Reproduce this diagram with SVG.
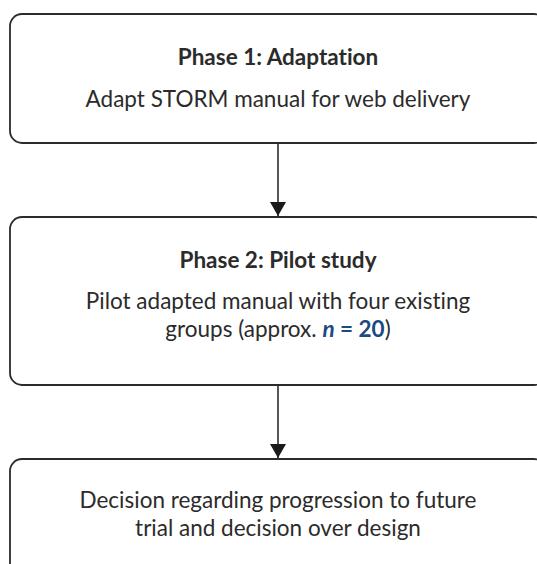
<svg xmlns="http://www.w3.org/2000/svg" width="537" height="564" viewBox="0 0 537 564">
  <style>
    .box { fill: #ffffff; stroke: #2b2b2b; stroke-width: 1.8; }
    .link { stroke: #2b2b2b; stroke-width: 1.6; fill: none; }
    text { font-variant-ligatures: none; }
    .title { font-family: Lato, "Liberation Sans", sans-serif; font-weight: 700; font-size: 22.5px; fill: #2b2b2b; text-anchor: middle; }
    .body { font-family: Lato, "Liberation Sans", sans-serif; font-size: 22.5px; fill: #2b2b2b; text-anchor: middle; }
    .stat { fill: #1d4a80; font-weight: 700; }
  </style>
  <defs>
    <marker id="head" viewBox="0 0 14 16" refX="14" refY="8" markerWidth="14" markerHeight="16" markerUnits="userSpaceOnUse" orient="auto">
      <path d="M0,0 L14,8 L0,16 Z" fill="#1a1a1a"/>
    </marker>
  </defs>
  <rect width="537" height="564" fill="#ffffff"/>

  <g id="connectors">
    <line class="link" x1="278" y1="143" x2="278" y2="216" marker-end="url(#head)"/>
    <line class="link" x1="278" y1="385" x2="278" y2="458" marker-end="url(#head)"/>
  </g>

  <g id="phase1">
    <rect class="box" x="10" y="14" width="536" height="129" rx="12"/>
    <text class="title" x="278" y="65">Phase 1: Adaptation</text>
    <text class="body" x="278" y="107">Adapt STORM manual for web delivery</text>
  </g>

  <g id="phase2">
    <rect class="box" x="10" y="217" width="536" height="168" rx="12"/>
    <text class="title" x="278" y="268">Phase 2: Pilot study</text>
    <text class="body" x="278" y="309">Pilot adapted manual with four existing</text>
    <text class="body" x="278" y="337">groups (approx. <tspan class="stat" font-style="italic">n</tspan><tspan class="stat"> = 20</tspan>)</text>
  </g>

  <g id="decision">
    <rect class="box" x="10" y="459" width="536" height="140" rx="12"/>
    <text class="body" x="278" y="508">Decision regarding progression to future</text>
    <text class="body" x="278" y="536">trial and decision over design</text>
  </g>
</svg>
